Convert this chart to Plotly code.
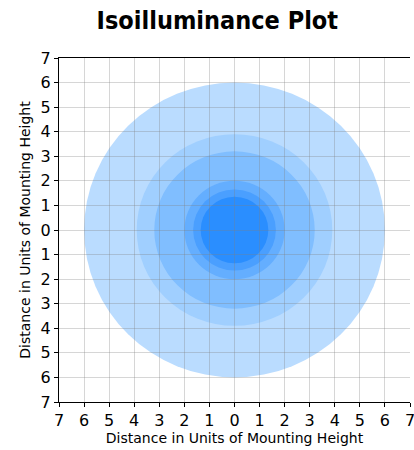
import plotly.graph_objects as go

# Isoilluminance contour radii (units of mounting height), outer to inner
radii = [6.0, 3.9, 3.2, 2.0, 1.65, 1.35]
fill_colors = ["#BADCFF", "#A0CFFF", "#80BEFF", "#64AEFF", "#4A9FFF", "#2A8EFF"]

tick_vals = list(range(-7, 8))
tick_text = [str(abs(v)) for v in tick_vals]

fig = go.Figure()
# invisible trace to establish the axes
fig.add_trace(go.Scatter(x=[-7, 7], y=[-7, 7], mode="markers",
                         marker=dict(opacity=0), hoverinfo="skip", showlegend=False))

for r, c in zip(radii, fill_colors):
    fig.add_shape(type="circle", xref="x", yref="y", x0=-r, x1=r, y0=-r, y1=r,
                  fillcolor=c, line=dict(width=0), layer="below")

axis_common = dict(
    range=[-7, 7], tickvals=tick_vals, ticktext=tick_text, automargin=False,
    showgrid=True, gridcolor="rgba(128,128,128,0.32)", gridwidth=1,
    zeroline=False, ticks="outside", ticklen=4, tickwidth=1, tickcolor="black",
    tickfont=dict(family="DejaVu Sans", size=16, color="black"),
    ticklabeloverflow="allow",
    linecolor="black", linewidth=1.2, showline=True,
)

fig.update_layout(
    width=414, height=450,
    margin=dict(l=59, r=4, t=58, b=48),
    paper_bgcolor="white", plot_bgcolor="white",
    title=dict(text="<b>Isoilluminance Plot</b>", x=0.525, xanchor="center",
               y=0.955, yanchor="middle",
               font=dict(family="DejaVu Sans Condensed", size=25, color="black")),
    xaxis=dict(**axis_common, mirror=True,
               title=dict(text="Distance in Units of Mounting Height", standoff=2,
                          font=dict(family="DejaVu Sans", size=14, color="black"))),
    yaxis=dict(**axis_common,
               title=dict(text="Distance in Units of Mounting Height", standoff=6,
                          font=dict(family="DejaVu Sans", size=14, color="black"))),
    showlegend=False,
)

fig.write_html("out.html", config={"displayModeBar": False},
               post_script="document.body.style.margin='0';")
